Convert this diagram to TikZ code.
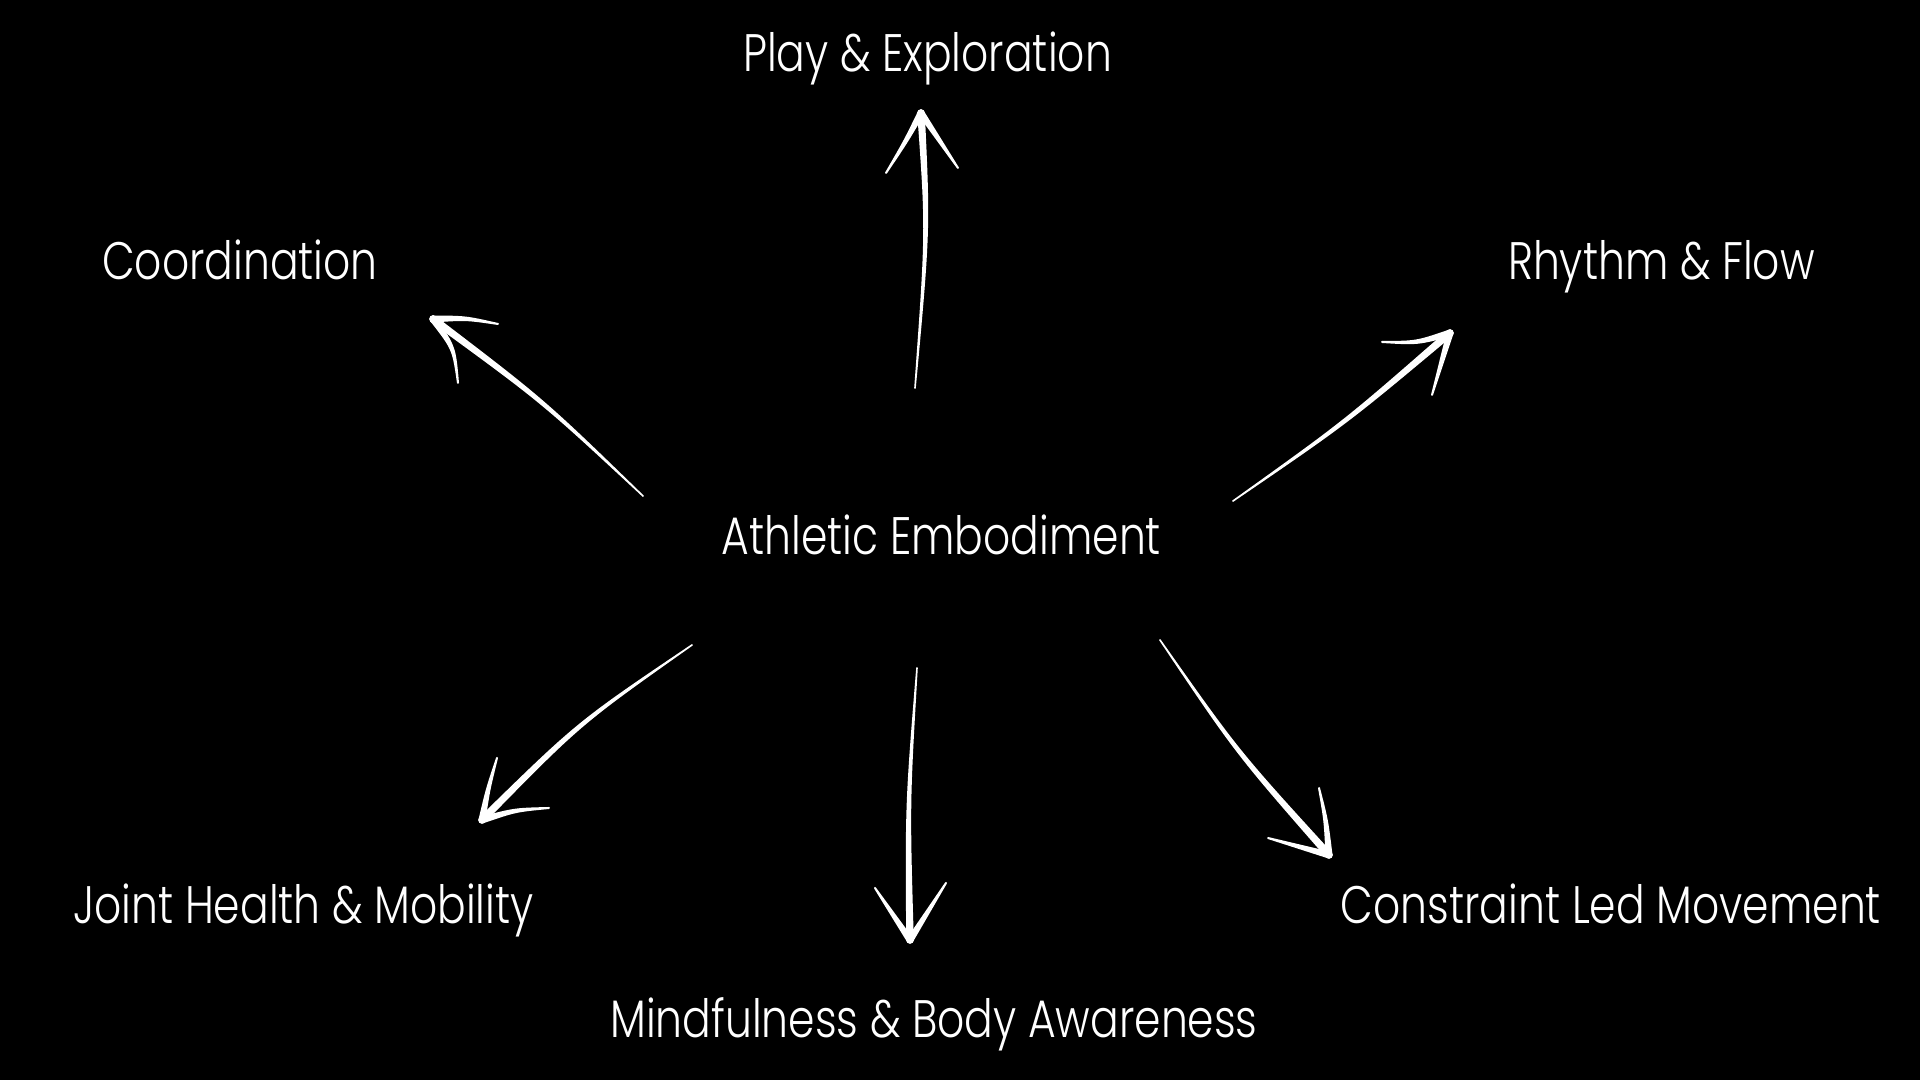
\documentclass[tikz,border=0pt]{standalone}
\usepackage{fontspec}
\setmainfont{Poppins}[UprightFont={* Light}]
\usetikzlibrary{calc}
\definecolor{inkwhite}{RGB}{255,255,255}
\newcommand\tstroke[5]{%
  \pgfmathsetmacro\skA{#4*0.01}%
  \pgfmathsetmacro\skB{#5*0.01}%
  \pgfmathsetmacro\skM{(#4+#5)*0.005}%
  \fill[inkwhite] ($(#1)!\skA cm!-90:(#2)$) .. controls ($(#2)!\skM cm!-90:(#3)$) .. ($(#3)!\skB cm!90:(#2)$)
     -- ($(#3)!\skB cm!-90:(#2)$) .. controls ($(#2)!\skM cm!90:(#3)$) .. ($(#1)!\skA cm!90:(#2)$) -- cycle;
  \fill[inkwhite] (#3) circle[radius=\skB cm];
  \fill[inkwhite] (#1) circle[radius=\skA cm];
}
\newcommand\sketcharrow[1]{%
  \tstroke{#1-s}{#1-c}{#1-t}{0.8}{3.8}%
  \tstroke{#1-l}{#1-lc}{#1-t}{1.0}{3.5}%
  \tstroke{#1-r}{#1-rc}{#1-t}{1.0}{3.5}%
}
\tikzset{lbl/.style={text=inkwhite, font=\fontsize{15}{18}\selectfont, anchor=base, inner sep=0pt, xscale=0.805}}
\begin{document}
\begin{tikzpicture}[x=0.01cm,y=-0.01cm]
\fill[black] (0,0) rectangle (1920,1080);
\useasboundingbox (0,0) rectangle (1920,1080);
% labels
\node[lbl] (ae) at (941.5,555) {Athletic Embodiment};
\node[lbl] (pe) at (927.5,72) {Play \& Exploration};
\node[lbl] (co) at (240,280) {Coordination};
\node[lbl] (rf) at (1661.5,280) {Rhythm \& Flow};
\node[lbl] (jh) at (303.5,924) {Joint Health \& Mobility};
\node[lbl] (cl) at (1611,924) {Constraint Led Movement};
\node[lbl] (mb) at (934,1038) {Mindfulness \& Body Awareness};
% arrow geometry
\coordinate (pe-s) at (915,388); \coordinate (pe-c) at (928,230); \coordinate (pe-t) at (921,113);
\coordinate (pe-l) at (886,173); \coordinate (pe-lc) at (906,141);
\coordinate (pe-r) at (958,168); \coordinate (pe-rc) at (939,140);
\coordinate (co-s) at (643,496); \coordinate (co-c) at (543,401); \coordinate (co-t) at (433,319);
\coordinate (co-l) at (498,324); \coordinate (co-lc) at (466,318);
\coordinate (co-r) at (458,383); \coordinate (co-rc) at (454,348);
\coordinate (rf-s) at (1233,501); \coordinate (rf-c) at (1346,422); \coordinate (rf-t) at (1450,333);
\coordinate (rf-l) at (1382,342); \coordinate (rf-lc) at (1417,343);
\coordinate (rf-r) at (1432,395); \coordinate (rf-rc) at (1441,364);
\coordinate (jh-s) at (692,645); \coordinate (jh-c) at (579,723); \coordinate (jh-t) at (482,820);
\coordinate (jh-l) at (497,758); \coordinate (jh-lc) at (488,789);
\coordinate (jh-r) at (549,808); \coordinate (jh-rc) at (515,810);
\coordinate (cl-s) at (1160,640); \coordinate (cl-c) at (1237,752); \coordinate (cl-t) at (1329,855);
\coordinate (cl-l) at (1319,788); \coordinate (cl-lc) at (1326,820);
\coordinate (cl-r) at (1268,838); \coordinate (cl-rc) at (1298,847);
\coordinate (mb-s) at (917,668); \coordinate (mb-c) at (907.5,804); \coordinate (mb-t) at (910,940);
\coordinate (mb-l) at (875,888); \coordinate (mb-lc) at (892,914);
\coordinate (mb-r) at (946,883); \coordinate (mb-rc) at (928,911);
% arrows
\sketcharrow{pe}
\sketcharrow{co}
\sketcharrow{rf}
\sketcharrow{jh}
\sketcharrow{cl}
\sketcharrow{mb}
\end{tikzpicture}
\end{document}
